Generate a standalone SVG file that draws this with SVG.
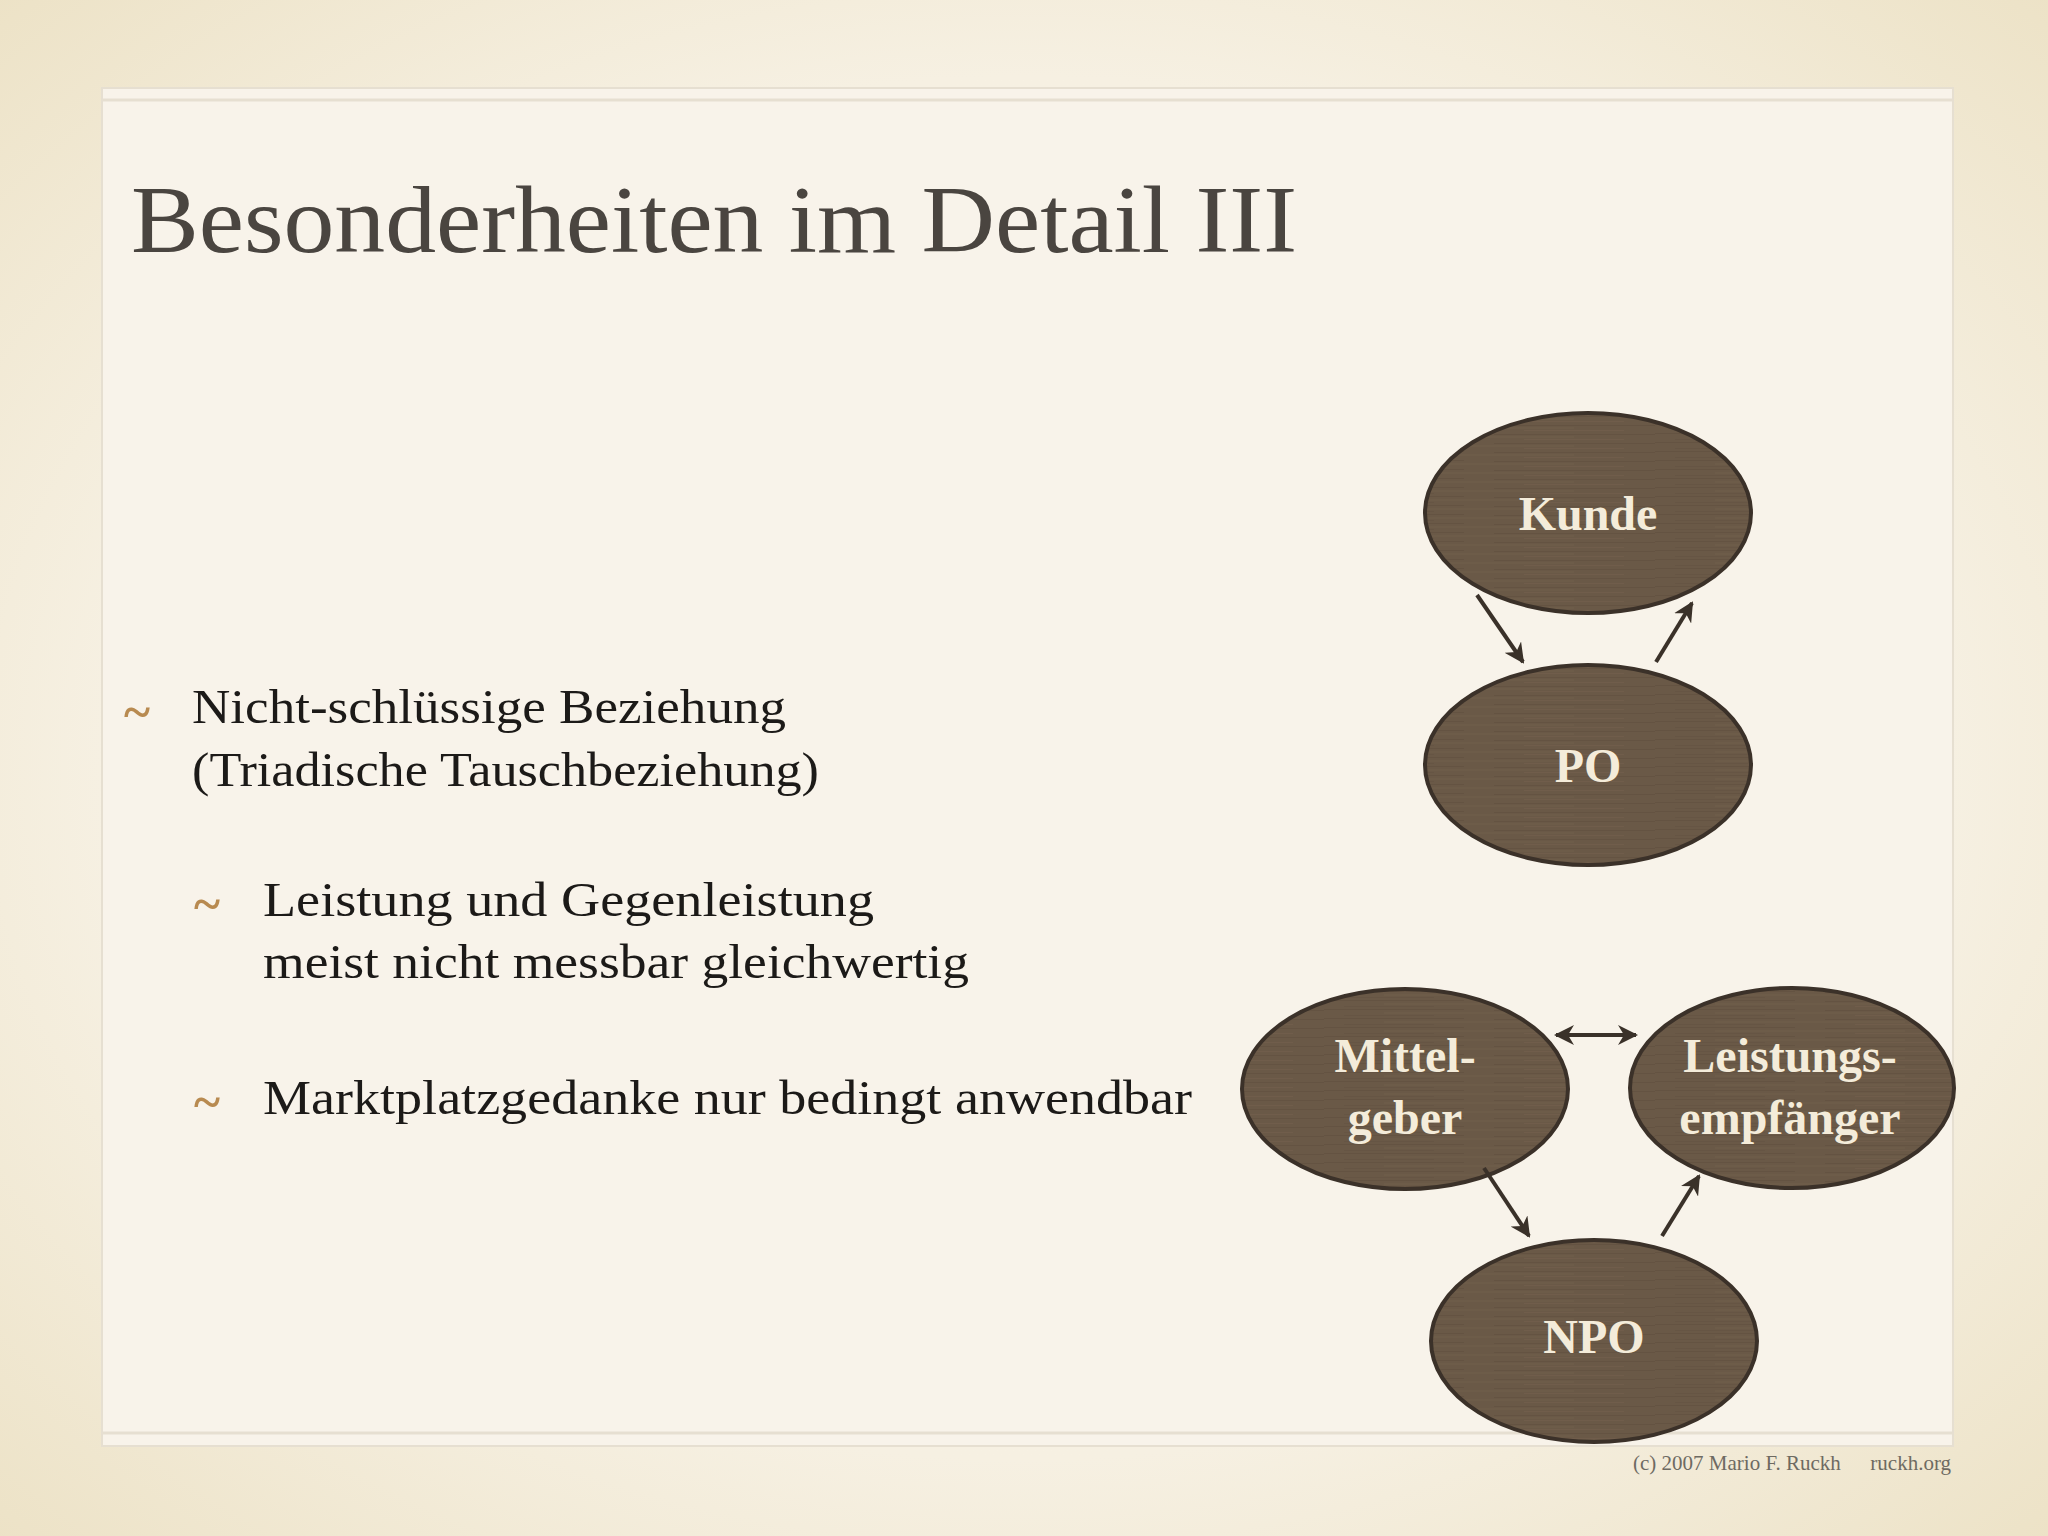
<svg xmlns="http://www.w3.org/2000/svg" width="2048" height="1536" viewBox="0 0 2048 1536">
<defs>
<radialGradient id="bg" cx="50%" cy="50%" r="75%">
<stop offset="0" stop-color="#f8f3e9"/>
<stop offset="0.6" stop-color="#f6f0e2"/>
<stop offset="1" stop-color="#ebe0c2"/>
</radialGradient>
<pattern id="wood" width="331" height="9" patternUnits="userSpaceOnUse">
<rect width="331" height="9" fill="#6a5947"/>
<line x1="0" y1="1.5" x2="140" y2="1.5" stroke="#5e4e3e" stroke-width="1" opacity="0.5"/>
<line x1="170" y1="2.5" x2="331" y2="2.5" stroke="#5e4e3e" stroke-width="1" opacity="0.5"/>
<line x1="60" y1="5" x2="250" y2="5" stroke="#76644f" stroke-width="1" opacity="0.5"/>
<line x1="20" y1="7.5" x2="110" y2="7.5" stroke="#5e4e3e" stroke-width="1" opacity="0.4"/>
<line x1="200" y1="7.5" x2="300" y2="7.5" stroke="#76644f" stroke-width="1" opacity="0.4"/>
</pattern>
<marker id="ah" viewBox="0 0 10 10" refX="9" refY="5" markerWidth="5" markerHeight="5" orient="auto-start-reverse" markerUnits="strokeWidth">
<path d="M0,0 L10,5 L0,10 L3,5 z" fill="#3a3129"/>
</marker>
<style>
.node ellipse{fill:url(#wood);stroke:#3b3129;stroke-width:4}
.node text{font-family:"Liberation Serif",serif;font-weight:bold;font-size:48px;fill:#f4ecda;text-anchor:middle}
.conn line{stroke:#3a3129;stroke-width:4;fill:none}
.body{font-family:"Liberation Serif",serif;font-size:48px;fill:#1c1a18}
.tilde{font-family:"Liberation Serif",serif;font-size:50px;font-weight:bold;fill:#b88a50;text-anchor:middle}
</style>
</defs>
<rect width="2048" height="1536" fill="url(#bg)"/>
<rect x="102" y="88" width="1851" height="1358" fill="#f8f3ea" stroke="#e6dfd1" stroke-width="2"/>
<line x1="102" y1="100" x2="1953" y2="100" stroke="#e6dfd1" stroke-width="3"/>
<line x1="102" y1="1433" x2="1953" y2="1433" stroke="#e6dfd1" stroke-width="3"/>

<text x="131" y="252" font-family="Liberation Serif, serif" font-size="96" fill="#4a4540" textLength="1166" lengthAdjust="spacingAndGlyphs">Besonderheiten im Detail III</text>

<text class="tilde" x="137" y="729">~</text>
<text class="body" x="192" y="723" textLength="594" lengthAdjust="spacingAndGlyphs">Nicht-schlüssige Beziehung</text>
<text class="body" x="192" y="786" textLength="627" lengthAdjust="spacingAndGlyphs">(Triadische Tauschbeziehung)</text>
<text class="tilde" x="207" y="921">~</text>
<text class="body" x="263" y="916" textLength="611" lengthAdjust="spacingAndGlyphs">Leistung und Gegenleistung</text>
<text class="body" x="263" y="978" textLength="706" lengthAdjust="spacingAndGlyphs">meist nicht messbar gleichwertig</text>
<text class="tilde" x="207" y="1119">~</text>
<text class="body" x="263" y="1114" textLength="929" lengthAdjust="spacingAndGlyphs">Marktplatzgedanke nur bedingt anwendbar</text>

<g id="kunde" class="node"><ellipse cx="1588" cy="513" rx="163" ry="100"/><text x="1588" y="530">Kunde</text></g>
<g id="po" class="node"><ellipse cx="1588" cy="765" rx="163" ry="100"/><text x="1588" y="782">PO</text></g>
<g id="mittelgeber" class="node"><ellipse cx="1405" cy="1089" rx="163" ry="100"/><text x="1405" y="1072">Mittel-</text><text x="1405" y="1134">geber</text></g>
<g id="leistungsempfaenger" class="node"><ellipse cx="1792" cy="1088" rx="162" ry="100"/><text x="1790" y="1072">Leistungs-</text><text x="1790" y="1134">empfänger</text></g>
<g id="npo" class="node"><ellipse cx="1594" cy="1341" rx="163" ry="101"/><text x="1594" y="1353">NPO</text></g>

<g id="connectors" class="conn">
<line x1="1477" y1="595" x2="1523" y2="662" marker-end="url(#ah)"/>
<line x1="1656" y1="662" x2="1692" y2="603" marker-end="url(#ah)"/>
<line x1="1556" y1="1035" x2="1636" y2="1035" marker-start="url(#ah)" marker-end="url(#ah)"/>
<line x1="1484" y1="1168" x2="1529" y2="1236" marker-end="url(#ah)"/>
<line x1="1662" y1="1236" x2="1699" y2="1176" marker-end="url(#ah)"/>
</g>

<text x="1633" y="1470" font-family="Liberation Serif, serif" font-size="21" fill="#6e6a62">(c) 2007 Mario F. Ruckh</text>
<text x="1951" y="1470" font-family="Liberation Serif, serif" font-size="21" fill="#6e6a62" text-anchor="end">ruckh.org</text>
</svg>
